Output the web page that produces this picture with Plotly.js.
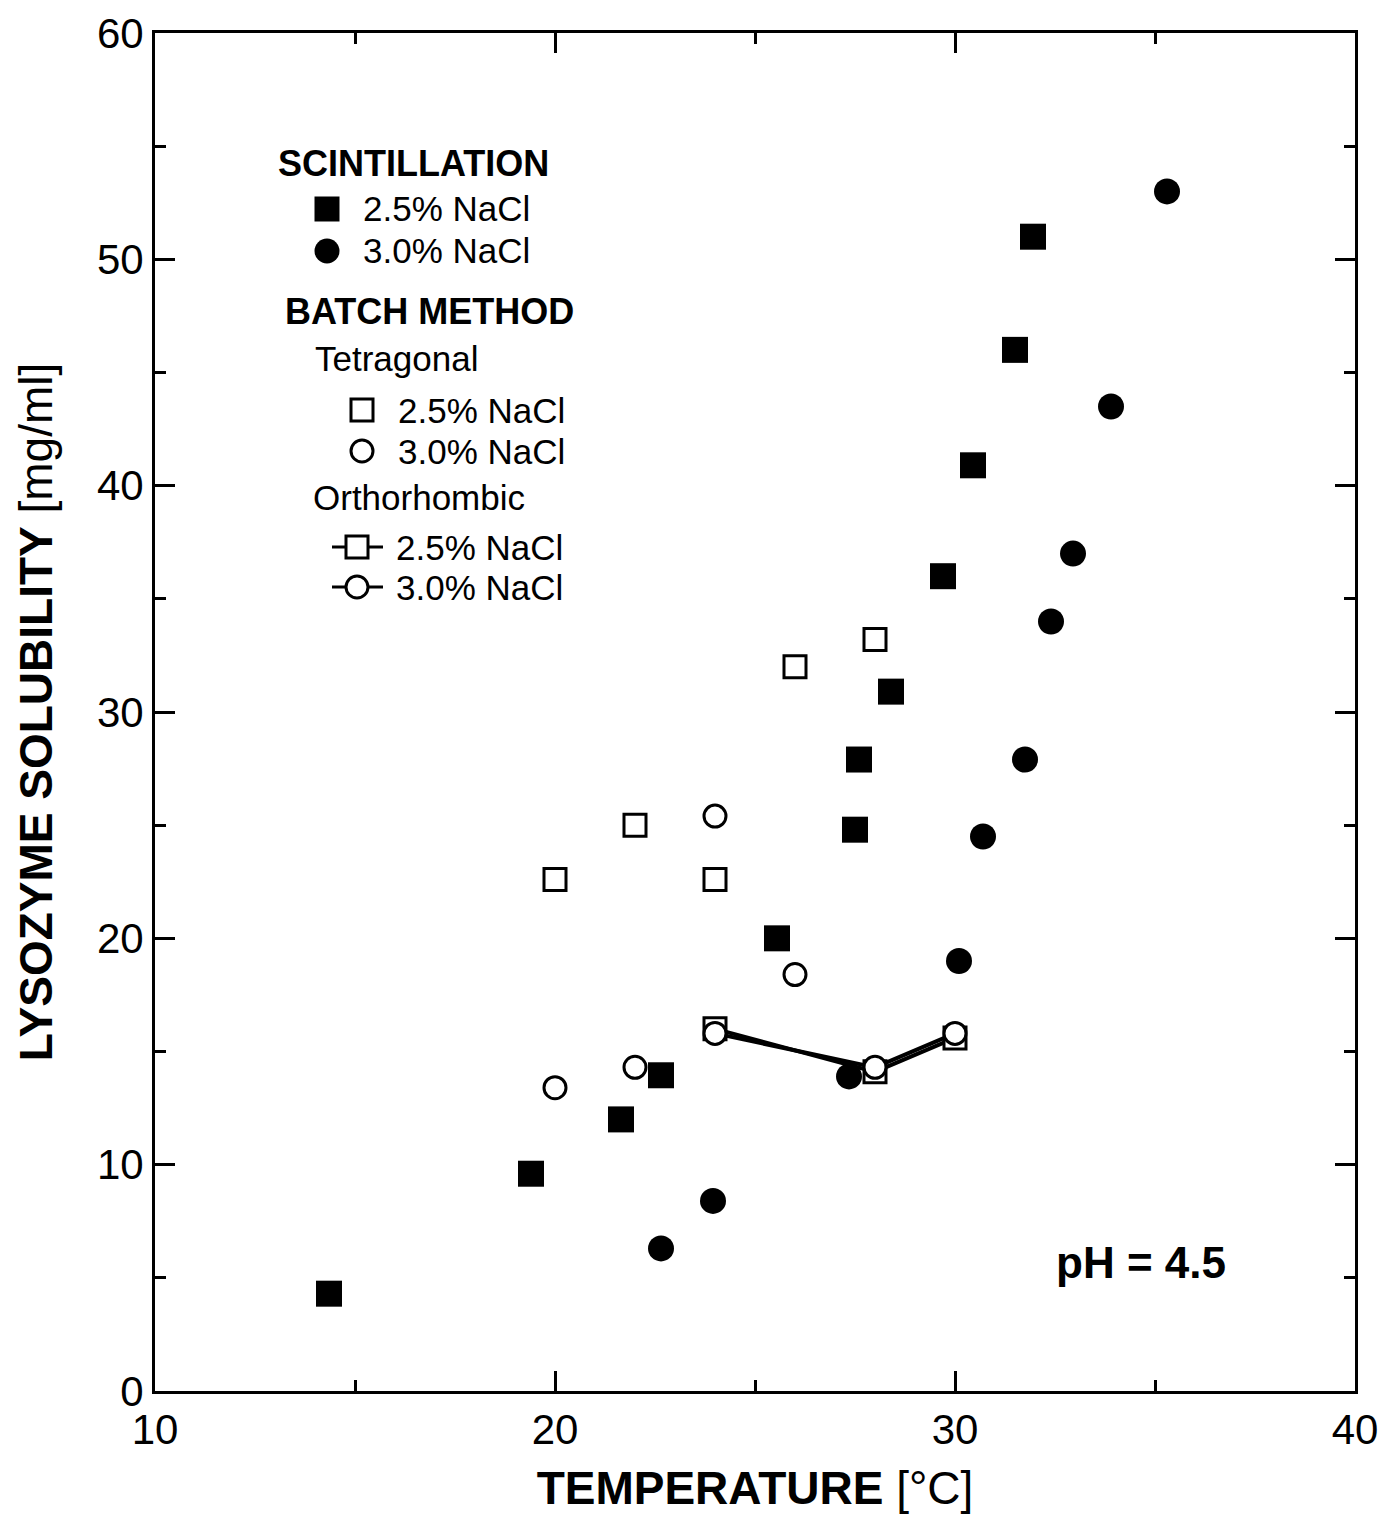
<!DOCTYPE html>
<html>
<head>
<meta charset="utf-8">
<script src="https://cdn.plot.ly/plotly-3.0.1.min.js"></script>
<style>html,body{margin:0;padding:0;background:#fff;}#chart{width:1382px;height:1518px;}</style>
</head>
<body>
<div id="chart"></div>
<script>
// ---- data (temperature °C, solubility mg/ml) ----
const scint25_x = [14.35, 19.4, 21.65, 22.65, 25.55, 27.5, 27.6, 28.4, 29.7, 30.45, 31.5, 31.95];
const scint25_y = [4.3, 9.6, 12.0, 13.95, 20.0, 24.8, 27.9, 30.9, 36.0, 40.9, 46.0, 51.0];
const scint30_x = [22.65, 23.95, 27.35, 30.1, 30.7, 31.75, 32.4, 32.95, 33.9, 35.3];
const scint30_y = [6.3, 8.4, 13.9, 19.0, 24.5, 27.9, 34.0, 37.0, 43.5, 53.0];
const tetra25_x = [20, 22, 24, 26, 28];
const tetra25_y = [22.6, 25.0, 22.6, 32.0, 33.2];
const tetra30_x = [20, 22, 24, 26];
const tetra30_y = [13.4, 14.3, 25.4, 18.4];
const ortho25_x = [24, 28, 30];
const ortho25_y = [16.0, 14.1, 15.6];
const ortho30_x = [24, 28, 30];
const ortho30_y = [15.8, 14.3, 15.8];

const FONT = '"Liberation Sans", Arial, Helvetica, sans-serif';
const W = 1382, H = 1518;
const M = {l: 155, r: 27, t: 33, b: 127};
const PW = W - M.l - M.r, PH = H - M.t - M.b;
const px = p => (p - M.l) / PW;           // pixel x -> paper
const py = p => (H - M.b - p) / PH;       // pixel y -> paper

const filled = (x, y, sym, name) => ({
  x, y, type: 'scatter', mode: 'markers', name,
  marker: {symbol: sym, size: 26, color: '#000', line: {width: 0}}
});
const open = (x, y, sym, name, withLine) => ({
  x, y, type: 'scatter', mode: withLine ? 'lines+markers' : 'markers', name,
  line: {color: '#000', width: 4},
  marker: {symbol: sym, size: 22, color: '#fff', line: {color: '#000', width: 3}}
});

const data = [
  filled(scint25_x, scint25_y, 'square', 'Scintillation 2.5% NaCl'),
  filled(scint30_x, scint30_y, 'circle', 'Scintillation 3.0% NaCl'),
  open(tetra25_x, tetra25_y, 'square', 'Tetragonal 2.5% NaCl', false),
  open(ortho25_x, ortho25_y, 'square', 'Orthorhombic 2.5% NaCl', true),
  open(tetra30_x, tetra30_y, 'circle', 'Tetragonal 3.0% NaCl', false),
  open(ortho30_x, ortho30_y, 'circle', 'Orthorhombic 3.0% NaCl', true)
];

// legend drawn as annotations + shapes
const LF = 35;
const txt = (text, left, cy, bold) => ({
  text: bold ? '<b>' + text + '</b>' : text,
  xref: 'paper', yref: 'paper', x: px(left), y: py(cy),
  xanchor: 'left', yanchor: 'middle', showarrow: false,
  font: {family: FONT, size: bold ? 36 : LF, color: '#000'}
});
const sq = (cx, cy, s, fill) => ({
  type: 'rect', xref: 'paper', yref: 'paper', layer: 'above',
  x0: px(cx - s / 2), x1: px(cx + s / 2), y0: py(cy + s / 2), y1: py(cy - s / 2),
  fillcolor: fill ? '#000' : '#fff', line: {color: '#000', width: fill ? 0 : 3}
});
const ci = (cx, cy, s, fill) => ({
  type: 'circle', xref: 'paper', yref: 'paper', layer: 'above',
  x0: px(cx - s / 2), x1: px(cx + s / 2), y0: py(cy + s / 2), y1: py(cy - s / 2),
  fillcolor: fill ? '#000' : '#fff', line: {color: '#000', width: fill ? 0 : 3}
});
const ln = (x0, x1, y) => ({
  type: 'line', xref: 'paper', yref: 'paper', layer: 'above',
  x0: px(x0), x1: px(x1), y0: py(y), y1: py(y), line: {color: '#000', width: 3}
});

const annotations = [
  txt('SCINTILLATION', 276, 163, true),
  txt('2.5% NaCl', 361, 209, false),
  txt('3.0% NaCl', 361, 251, false),
  txt('BATCH METHOD', 283, 311, true),
  txt('Tetragonal', 313, 358, false),
  txt('2.5% NaCl', 396, 410, false),
  txt('3.0% NaCl', 396, 451, false),
  txt('Orthorhombic', 311, 497, false),
  txt('2.5% NaCl', 394, 547, false),
  txt('3.0% NaCl', 394, 587, false),
  {text: '<b>pH = 4.5</b>', xref: 'paper', yref: 'paper', x: px(1054), y: py(1262),
   xanchor: 'left', yanchor: 'middle', showarrow: false,
   font: {family: FONT, size: 44, color: '#000'}}
];
const shapes = [
  sq(327, 209, 25, true),
  ci(327, 251, 25, true),
  sq(362, 410, 22, false),
  ci(362, 451, 22, false),
  ln(332, 383, 547), sq(357, 547, 22, false),
  ln(332, 383, 587), ci(357, 587, 22, false)
];

const axisCommon = {
  showgrid: false, zeroline: false, showline: true, linecolor: '#000', linewidth: 3,
  mirror: 'ticks', ticks: 'inside', ticklen: 20, tickwidth: 3, tickcolor: '#000',
  dtick: 10, tickfont: {family: FONT, size: 42, color: '#000'},
  minor: {ticks: 'inside', ticklen: 11, tickwidth: 3, tickcolor: '#000', dtick: 5},
  fixedrange: true
};

const layout = {
  width: W, height: H,
  margin: M,
  paper_bgcolor: '#fff', plot_bgcolor: '#fff',
  showlegend: false,
  font: {family: FONT, color: '#000'},
  xaxis: Object.assign({}, axisCommon, {
    range: [10, 40], tick0: 10,
    title: {text: '<b>TEMPERATURE</b> [°C]', font: {family: FONT, size: 46, color: '#000'}, standoff: 20}
  }),
  yaxis: Object.assign({}, axisCommon, {
    range: [0, 60], tick0: 0,
    title: {text: '<b>LYSOZYME SOLUBILITY</b> [mg/ml]', font: {family: FONT, size: 46, color: '#000'}, standoff: 30}
  }),
  annotations, shapes
};

Plotly.newPlot('chart', data, layout, {staticPlot: true});
</script>
</body>
</html>
